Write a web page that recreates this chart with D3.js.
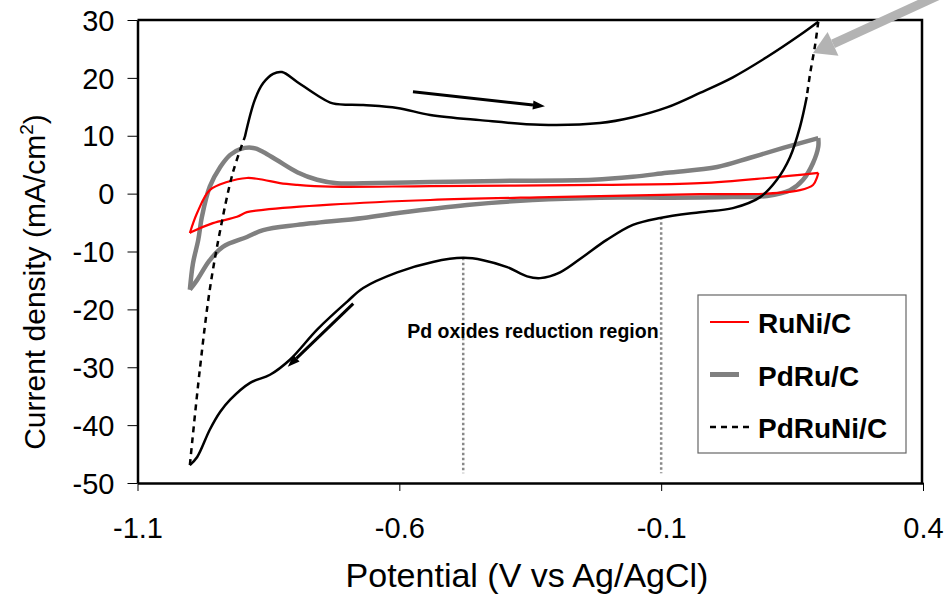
<!DOCTYPE html>
<html>
<head>
<meta charset="utf-8">
<script src="https://cdn.jsdelivr.net/npm/d3@7"></script>
<style>
  html, body { margin: 0; padding: 0; background: #fff; }
  svg { display: block; font-family: "Liberation Sans", Arial, sans-serif; }
</style>
</head>
<body>
<svg id="chart" width="944" height="595"></svg>
<script>
// axis ticks
const xTicks = [-1.1, -0.6, -0.1, 0.4];
const yTicks = [30, 20, 10, 0, -10, -20, -30, -40, -50];

// RuNi/C, [potential V, current mA/cm2]
const ruNiAnodic = [[-1.000,-6.8],[-0.986,-3.3],[-0.962,0.6],[-0.929,2.0],[-0.891,2.7],[-0.860,2.4],
  [-0.828,1.8],[-0.795,1.5],[-0.732,1.2],[-0.541,1.3],[-0.217,1.5],[-0.026,1.8],[0.102,2.7],[0.200,3.6]];
const ruNiCathodic = [[0.200,3.6],[0.198,2.9],[0.190,1.5],[0.165,0.6],[0.102,0.0],[-0.026,-0.1],[-0.312,-0.6],
  [-0.541,-1.1],[-0.732,-1.9],[-0.860,-2.8],[-0.891,-3.2],[-0.910,-4.0],[-0.956,-5.1],[-0.996,-6.6],[-1.000,-6.8]];

// PdRu/C
const pdRuAnodic = [[-1.000,-16.6],[-0.994,-12.0],[-0.984,-8.0],[-0.977,-4.0],[-0.962,1.2],[-0.942,4.6],
  [-0.923,6.7],[-0.904,7.7],[-0.879,7.9],[-0.860,7.2],[-0.834,5.8],[-0.795,3.7],[-0.757,2.4],[-0.719,1.8],
  [-0.669,1.8],[-0.541,2.0],[-0.409,2.2],[-0.230,2.4],[-0.154,2.9],[-0.089,3.6],[0.007,4.6],[0.070,6.2],
  [0.133,7.9],[0.200,9.6]];
const pdRuCathodic = [[0.200,9.6],[0.200,8.1],[0.190,5.3],[0.171,2.4],[0.146,0.6],[0.102,-0.4],[0.037,-0.6],
  [-0.089,-0.7],[-0.217,-0.7],[-0.345,-1.1],[-0.471,-1.95],[-0.599,-3.3],[-0.669,-4.2],[-0.795,-5.4],
  [-0.860,-6.3],[-0.891,-7.5],[-0.937,-9.2],[-0.962,-11.5],[-0.986,-14.9],[-1.000,-16.6]];

// PdRuNi/C (dashed at the two turning points)
const pdRuNiRise = [[-1.000,-46.9],[-0.981,-30.4],[-0.962,-16.6],[-0.942,-6.3],[-0.918,3.6],[-0.895,9.8]];
const pdRuNiAnodic = [[-0.895,9.8],[-0.876,16.2],[-0.860,19.1],[-0.841,20.7],[-0.824,21.0],[-0.795,19.3],
  [-0.757,17.0],[-0.727,15.6],[-0.669,15.3],[-0.604,14.8],[-0.541,13.6],[-0.446,12.7],[-0.331,11.9],
  [-0.217,12.2],[-0.154,13.2],[-0.089,14.9],[-0.026,17.4],[0.037,20.1],[0.102,23.6],[0.165,27.4],[0.200,29.7]];
const pdRuNiTurn = [[0.200,29.7],[0.194,25.7],[0.184,20.5],[0.178,16.7]];
const pdRuNiCathodic = [[0.178,16.7],[0.165,11.5],[0.146,6.3],[0.121,2.4],[0.089,-0.6],[0.037,-2.5],
  [-0.026,-3.2],[-0.102,-4.2],[-0.154,-5.4],[-0.204,-8.0],[-0.249,-10.9],[-0.293,-13.6],[-0.331,-14.6],
  [-0.356,-14.3],[-0.394,-12.7],[-0.440,-11.5],[-0.478,-11.1],[-0.536,-11.8],[-0.604,-13.6],[-0.669,-16.3],
  [-0.700,-18.7],[-0.757,-23.5],[-0.809,-28.7],[-0.847,-31.3],[-0.885,-32.7],[-0.923,-35.6],[-0.942,-37.7],
  [-0.962,-40.8],[-0.986,-45.5],[-1.000,-46.9]];

// region markers and arrows
const regionLines = [[-0.478,-11.1],[-0.1,-4.1]];
const regionBottom = -48.3;
const sweepArrows = [[[-0.574,17.6],[-0.322,15.1]], [[-0.688,-19.0],[-0.813,-29.9]]];
const pointerArrow = [[0.46,35.5],[0.190,24.3]];

const legendItems = ["RuNi/C", "PdRu/C", "PdRuNi/C"];

const svg = d3.select("#chart");
const area = { left: 137.5, right: 922, top: 20, bottom: 483 };

const x = d3.scaleLinear().domain([-1.1, 0.4]).range([area.left, 923]);
const y = d3.scaleLinear().domain([-50, 30]).range([area.bottom, area.top]);

const line = d3.line()
  .x(d => x(d[0]))
  .y(d => y(d[1]))
  .curve(d3.curveCatmullRom.alpha(0.5));

// hyphen minus like the original
const fmtX = d => d.toFixed(1);
const fmtY = d => String(d);

// frame top + right
svg.append("path")
  .attr("d", `M${area.left},${area.top}H${area.right}V${area.bottom}`)
  .attr("fill", "none").attr("stroke", "#000").attr("stroke-width", 2.5);

// axes
const gx = svg.append("g")
  .attr("transform", `translate(0,${area.bottom})`)
  .call(d3.axisBottom(x).tickValues(xTicks).tickSize(8).tickSizeOuter(0).tickFormat(fmtX));
gx.select(".domain").attr("stroke-width", 2.5);
gx.selectAll(".tick line").attr("stroke-width", 1);
gx.selectAll("text").attr("font-size", 29).attr("dy", 0).attr("y", 55).attr("fill", "#000");

const gy = svg.append("g")
  .attr("transform", `translate(${area.left},0)`)
  .call(d3.axisLeft(y).tickValues(yTicks).tickSize(10).tickSizeOuter(0).tickFormat(fmtY));
gy.select(".domain").attr("stroke-width", 2.5);
gy.selectAll(".tick line").attr("stroke-width", 1);
gy.selectAll("text").attr("font-size", 29).attr("x", -23).attr("dy", "0.35em").attr("fill", "#000");
svg.selectAll(".tick text").attr("font-family", "'Liberation Sans', Arial, sans-serif");

// axis titles
svg.append("text")
  .attr("x", 527).attr("y", 587)
  .attr("text-anchor", "middle").attr("font-size", 34)
  .text("Potential (V vs Ag/AgCl)");

const yt = svg.append("text")
  .attr("transform", "translate(45,282) rotate(-90)")
  .attr("text-anchor", "middle").attr("font-size", 30);
yt.append("tspan").text("Current density (mA/cm");
yt.append("tspan").attr("font-size", 19).attr("dy", -12).text("2");
yt.append("tspan").attr("dy", 12).text(")");

// dotted region lines
regionLines.forEach(p => {
  svg.append("line")
    .attr("x1", x(p[0])).attr("x2", x(p[0]))
    .attr("y1", y(p[1])).attr("y2", y(regionBottom))
    .attr("stroke", "#888").attr("stroke-width", 2.5).attr("stroke-dasharray", "2.5,2.5");
});

svg.append("text")
  .attr("x", x(-0.345)).attr("y", y(-25.0))
  .attr("text-anchor", "middle").attr("font-size", 19.5).attr("font-weight", "bold")
  .text("Pd oxides reduction region");

// curves
[pdRuAnodic, pdRuCathodic].forEach(d => {
  svg.append("path").datum(d).attr("d", line)
    .attr("fill", "none").attr("stroke", "#808080").attr("stroke-width", 4.5)
    .attr("stroke-linejoin", "round");
});
[ruNiAnodic, ruNiCathodic].forEach(d => {
  svg.append("path").datum(d).attr("d", line)
    .attr("fill", "none").attr("stroke", "#ff0000").attr("stroke-width", 2.2)
    .attr("stroke-linejoin", "round");
});
[pdRuNiAnodic, pdRuNiCathodic].forEach(d => {
  svg.append("path").datum(d).attr("d", line)
    .attr("fill", "none").attr("stroke", "#000").attr("stroke-width", 2.5);
});
[pdRuNiRise, pdRuNiTurn].forEach(d => {
  svg.append("path").datum(d).attr("d", line)
    .attr("fill", "none").attr("stroke", "#000").attr("stroke-width", 2.5)
    .attr("stroke-dasharray", "6,5");
});

// arrows
function arrow(p0, p1, color, width, headLen, headW) {
  const x0 = x(p0[0]), y0 = y(p0[1]), x1 = x(p1[0]), y1 = y(p1[1]);
  const a = Math.atan2(y1 - y0, x1 - x0);
  const bx = x1 - headLen * Math.cos(a), by = y1 - headLen * Math.sin(a);
  svg.append("line").attr("x1", x0).attr("y1", y0).attr("x2", bx).attr("y2", by)
    .attr("stroke", color).attr("stroke-width", width);
  const nx = -Math.sin(a) * headW / 2, ny = Math.cos(a) * headW / 2;
  svg.append("path")
    .attr("d", `M${x1},${y1}L${bx + nx},${by + ny}L${bx - nx},${by - ny}Z`)
    .attr("fill", color);
}
sweepArrows.forEach(a => arrow(a[0], a[1], "#000", 3, 12, 9));
arrow(pointerArrow[0], pointerArrow[1], "#b3b3b3", 9, 22, 26);

// legend
const lg = svg.append("g").attr("transform", "translate(698,295)");
lg.append("rect").attr("width", 208).attr("height", 158)
  .attr("fill", "#fff").attr("stroke", "#666").attr("stroke-width", 1.2);
const legendStyles = [
  { stroke: "#ff0000", w: 2.2, len: 39, dash: null },
  { stroke: "#808080", w: 5, len: 29, dash: null },
  { stroke: "#000", w: 2.5, len: 39, dash: "6,5" }
];
legendItems.forEach((name, i) => {
  const cy = 27 + i * 52.5;
  const s = legendStyles[i];
  lg.append("line").attr("x1", 12).attr("x2", 12 + s.len).attr("y1", cy).attr("y2", cy)
    .attr("stroke", s.stroke).attr("stroke-width", s.w)
    .attr("stroke-dasharray", s.dash);
  lg.append("text").attr("x", 60).attr("y", cy + 11)
    .attr("font-size", 28).attr("font-weight", "bold").text(name);
});
</script>
</body>
</html>
